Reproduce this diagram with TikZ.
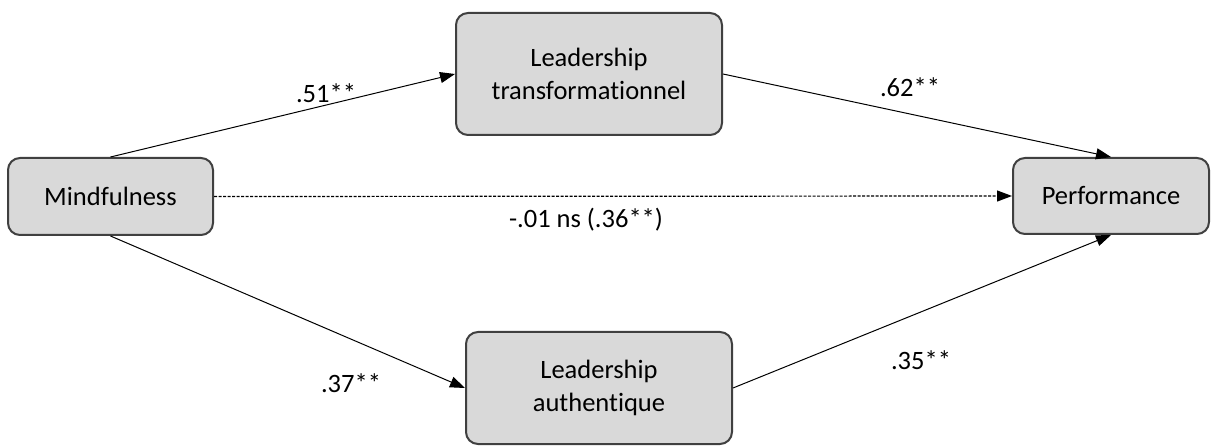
\documentclass[tikz,border=0pt]{standalone}
\usepackage{fontspec}
\setmainfont{Carlito}[Ligatures={NoCommon}]
\usetikzlibrary{arrows.meta}
\definecolor{boxfill}{HTML}{D9D9D9}
\definecolor{boxline}{HTML}{404040}
\begin{document}
\begin{tikzpicture}[x=1pt,y=-1pt,
  var/.style={draw=boxline, fill=boxfill, line width=2pt, rounded corners=12pt,
    align=center, font=\fontsize{26.5}{33}\selectfont, inner sep=0pt},
  path/.style={line width=1pt, -{Triangle[length=15pt,width=11pt]}},
  coef/.style={font=\fontsize{26.5}{32}\selectfont, inner sep=0pt}]
\useasboundingbox (0,0) rectangle (1213,446);
\node[var, minimum width=205pt, minimum height=77pt] (mind) at (110.5,196.5) {Mindfulness};
\node[var, minimum width=266pt, minimum height=122pt] (ltr) at (589,74) {Leadership\\transformationnel};
\node[var, minimum width=196pt, minimum height=76pt] (perf) at (1111,196) {Performance};
\node[var, minimum width=266pt, minimum height=112pt] (lau) at (599,388) {Leadership\\authentique};

\draw[path] (mind.north) -- (ltr.west);
\draw[path] (ltr.east) -- (perf.north);
\draw[path] (mind.south) -- (lau.west);
\draw[path] (lau.east) -- (perf.south);
\draw[path, dash pattern=on 3pt off 1.5pt, line width=1.2pt] (mind.east) -- (perf.west);

\node[coef] (c1) at (326,93) {.51**};
\node[coef] (c2) at (910,87) {.62**};
\node[coef] (c3) at (586,220) {-.01 ns (.36**)};
\node[coef] (c4) at (351,383) {.37**};
\node[coef] (c5) at (921,360) {.35**};
\end{tikzpicture}
\end{document}
